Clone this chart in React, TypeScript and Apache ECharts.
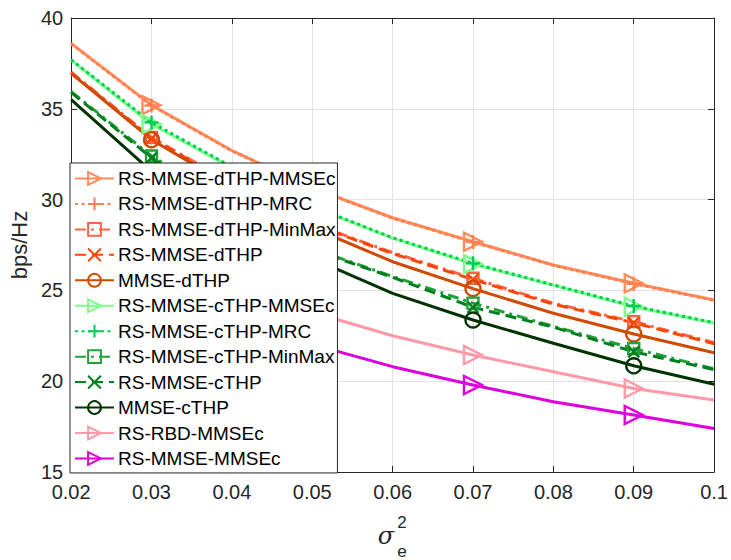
import React, { useEffect, useRef } from "react";
import * as echarts from "echarts";

const xValues = [0.02, 0.03, 0.04, 0.05, 0.06, 0.07, 0.08, 0.09, 0.1];

const dthpMmsec = [38.6, 35.2, 32.7, 30.65, 29.0, 27.68, 26.4, 25.39, 24.47];
const dthpMrc = [38.58, 35.18, 32.68, 30.63, 28.98, 27.66, 26.38, 25.37, 24.45];
const dthpMinMax = [37.02, 33.42, 30.9, 28.68, 27.08, 25.67, 24.29, 23.28, 22.12];
const rsDthp = [36.98, 33.36, 30.86, 28.64, 27.03, 25.6, 24.24, 23.22, 22.06];
const mmseDthp = [36.95, 33.3, 30.7, 28.45, 26.58, 25.1, 23.74, 22.6, 21.57];
const cthpMmsec = [37.68, 34.15, 31.75, 29.6, 27.88, 26.45, 25.28, 24.1, 23.2];
const cthpMrc = [37.7, 34.25, 31.8, 29.64, 27.9, 26.49, 25.3, 24.14, 23.22];
const cthpMinMax = [35.95, 32.4, 29.75, 27.3, 25.77, 24.3, 23.02, 21.8, 20.68];
const rsCthp = [35.9, 32.3, 29.7, 27.25, 25.72, 24.07, 22.98, 21.62, 20.64];
const mmseCthp = [35.5, 31.55, 29.0, 26.76, 24.84, 23.37, 22.09, 20.85, 19.83];
const rbdMmsec = [29.6, 27.4, 25.5, 23.8, 22.5, 21.44, 20.52, 19.6, 18.96];
const mmseMmsec = [27.0, 25.0, 23.4, 22.03, 20.8, 19.79, 18.87, 18.14, 17.4];

const yTicks = { min: 15, max: 40, interval: 5 };

const PLUS = "path://M5,0L5,10M0,5L10,5";
const CROSS = "path://M0,0L10,10M10,0L0,10";

const DOTTED = [3, 3.5];
const DASHED = [11, 6];
const DASHDOT = [11, 5, 3, 5];

const seriesDefs = [
  { name: "RS-MMSE-dTHP-MMSEc", values: dthpMmsec, color: "#FF8C5A", type: "solid", symbol: "triangle", size: 18, rotate: -90 },
  { name: "RS-MMSE-dTHP-MRC", values: dthpMrc, color: "#FF7F50", type: DOTTED, symbol: PLUS, size: 14, rotate: 0 },
  { name: "RS-MMSE-dTHP-MinMax", values: dthpMinMax, color: "#FF6347", type: DASHDOT, symbol: "rect", size: 11, rotate: 0 },
  { name: "RS-MMSE-dTHP", values: rsDthp, color: "#FF4500", type: DASHED, symbol: CROSS, size: 11, rotate: 0 },
  { name: "MMSE-dTHP", values: mmseDthp, color: "#D04A02", type: "solid", symbol: "circle", size: 15, rotate: 0 },
  { name: "RS-MMSE-cTHP-MMSEc", values: cthpMmsec, color: "#7CFC8A", type: "solid", symbol: "triangle", size: 18, rotate: -90 },
  { name: "RS-MMSE-cTHP-MRC", values: cthpMrc, color: "#00CC55", type: DOTTED, symbol: PLUS, size: 14, rotate: 0 },
  { name: "RS-MMSE-cTHP-MinMax", values: cthpMinMax, color: "#22A13A", type: DASHDOT, symbol: "rect", size: 11, rotate: 0 },
  { name: "RS-MMSE-cTHP", values: rsCthp, color: "#007F1F", type: DASHED, symbol: CROSS, size: 11, rotate: 0 },
  { name: "MMSE-cTHP", values: mmseCthp, color: "#013301", type: "solid", symbol: "circle", size: 15, rotate: 0 },
  { name: "RS-RBD-MMSEc", values: rbdMmsec, color: "#FF99A8", type: "solid", symbol: "triangle", size: 18, rotate: -90 },
  { name: "RS-MMSE-MMSEc", values: mmseMmsec, color: "#DD00DD", type: "solid", symbol: "triangle", size: 18, rotate: -90 },
];

const AXIS = "#262626";
const FONT = "'Liberation Sans', Arial, sans-serif";

export default function App() {
  const ref = useRef<HTMLDivElement>(null);
  useEffect(() => {
    if (!ref.current) return;
    const chart = echarts.init(ref.current, undefined, { renderer: "svg" });
    const series = seriesDefs.map((d) => ({
      name: d.name,
      type: "line",
      data: xValues.map((x, i) =>
        i % 2 === 1 ? { value: [x, d.values[i]] } : { value: [x, d.values[i]], symbol: "none" }
      ),
      symbol: d.symbol,
      symbolSize: d.size,
      symbolRotate: d.rotate,
      showAllSymbol: true,
      lineStyle: { color: d.color, width: 3, type: d.type },
      itemStyle: { color: "rgba(0,0,0,0)", borderColor: d.color, borderWidth: 2.4 },
      emphasis: { disabled: true },
      silent: true,
      z: 3,
    }));
    const option = {
      animation: false,
      backgroundColor: "#fff",
      grid: { left: 70, right: 13, top: 18, bottom: 88, show: false },
      legend: {
        orient: "vertical",
        left: 70,
        top: 163,
        z: 20,
        backgroundColor: "#fff",
        borderColor: AXIS,
        borderWidth: 1,
        borderRadius: 0,
        padding: [6, 2, 5, 4],
        itemWidth: 39,
        itemHeight: 16,
        itemGap: 6.45,
        textStyle: { fontSize: 19, fontFamily: FONT, color: "#000", padding: [0, 0, 0, -1] },
        data: seriesDefs.map((d) => d.name),
      },
      xAxis: [
        {
          type: "value",
          min: 0.02,
          max: 0.1,
          interval: 0.01,
          axisLine: { show: true, lineStyle: { color: AXIS, width: 1 } },
          axisTick: { show: true, inside: true, length: 6, lineStyle: { color: AXIS } },
          axisLabel: {
            fontSize: 20,
            fontFamily: FONT,
            color: AXIS,
            margin: 10,
            formatter: (v: number) => String(parseFloat(v.toFixed(2))),
          },
          splitLine: { show: true, lineStyle: { color: "#E3E3E3", width: 1 } },
        },
        {
          type: "value",
          position: "top",
          min: 0.02,
          max: 0.1,
          interval: 0.01,
          axisLine: { show: true, lineStyle: { color: AXIS, width: 1 } },
          axisTick: { show: true, inside: true, length: 6, lineStyle: { color: AXIS } },
          axisLabel: { show: false },
          splitLine: { show: false },
        },
      ],
      yAxis: [
        {
          type: "value",
          min: yTicks.min,
          max: yTicks.max,
          interval: yTicks.interval,
          name: "bps/Hz",
          nameLocation: "middle",
          nameGap: 36,
          nameTextStyle: { fontSize: 22, fontFamily: FONT, color: AXIS },
          axisLine: { show: true, lineStyle: { color: AXIS, width: 1 } },
          axisTick: { show: true, inside: true, length: 6, lineStyle: { color: AXIS } },
          axisLabel: { fontSize: 20, fontFamily: FONT, color: AXIS, margin: 8 },
          splitLine: { show: true, lineStyle: { color: "#E3E3E3", width: 1 } },
        },
        {
          type: "value",
          position: "right",
          min: yTicks.min,
          max: yTicks.max,
          interval: yTicks.interval,
          axisLine: { show: true, lineStyle: { color: AXIS, width: 1 } },
          axisTick: { show: true, inside: true, length: 6, lineStyle: { color: AXIS } },
          axisLabel: { show: false },
          splitLine: { show: false },
        },
      ],
      graphic: [
        {
          type: "text",
          x: 386,
          y: 536,
          style: { text: "σ", font: "italic 24px 'DejaVu Serif', serif", fill: AXIS, textAlign: "center", textVerticalAlign: "middle" },
        },
        {
          type: "text",
          x: 402,
          y: 522,
          style: { text: "2", font: `17px ${FONT}`, fill: AXIS, textAlign: "center", textVerticalAlign: "middle" },
        },
        {
          type: "text",
          x: 402,
          y: 551,
          style: { text: "e", font: `17px ${FONT}`, fill: AXIS, textAlign: "center", textVerticalAlign: "middle" },
        },
      ],
      series,
    };
    chart.setOption(option as any);
    return () => chart.dispose();
  }, []);
  return <div ref={ref} style={{ position: "absolute", left: 0, top: 0, width: 731, height: 560 }} />;
}
